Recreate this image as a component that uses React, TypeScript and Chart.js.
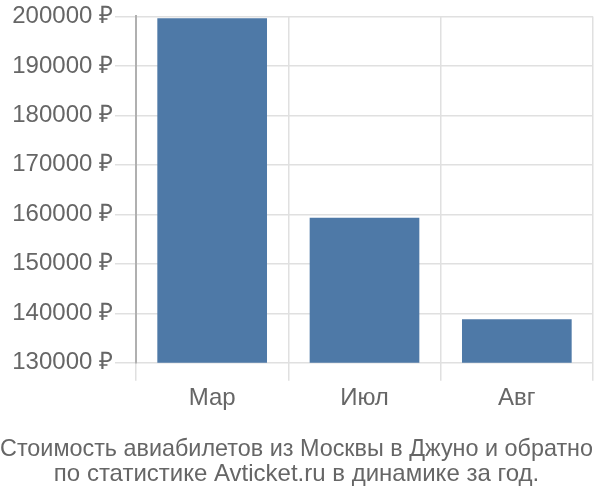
import React, { useEffect, useRef } from "react";
import { Chart, registerables } from "chart.js";

Chart.register(...registerables);

const categories = ["Мар", "Июл", "Авг"];
const prices = [199650, 159300, 138800];
const yMin = 130000;
const yMax = 200000;
const yStep = 10000;
const titleLines = [
  "Стоимость авиабилетов из Москвы в Джуно и обратно",
  "по статистике Avticket.ru в динамике за год.",
];

export default function App() {
  const ref = useRef<HTMLCanvasElement | null>(null);
  useEffect(() => {
    if (!ref.current) return;
    const family = "'Liberation Sans', Arial, sans-serif";
    const tickFont = { family, size: 24, lineHeight: 1.2 };
    const chart = new Chart(ref.current, {
      type: "bar",
      data: {
        labels: categories,
        datasets: [
          {
            data: prices,
            backgroundColor: "#4e79a7",
            borderWidth: 0,
            barPercentage: 0.72,
            categoryPercentage: 1,
          },
        ],
      },
      options: {
        animation: false,
        responsive: false,
        maintainAspectRatio: false,
        layout: { padding: { left: 0, right: 7, top: 0, bottom: 0 } },
        plugins: {
          legend: { display: false },
          tooltip: { enabled: false },
          title: {
            display: true,
            position: "bottom",
            text: titleLines,
            color: "#666",
            font: { family, size: 24, weight: "normal", lineHeight: 1.05 },
            padding: { top: 21, bottom: 13 },
          },
        },
        scales: {
          x: {
            grid: { color: "#e0e0e0", lineWidth: 1.5, tickLength: 18, offset: true },
            border: { display: false },
            ticks: { color: "#666", font: tickFont, padding: 3 },
          },
          y: {
            min: yMin,
            max: yMax,
            afterFit: (scale: any) => {
              scale.width = 136;
            },
            ticks: {
              stepSize: yStep,
              color: "#666",
              font: tickFont,
              padding: 2,
              callback: (v: any) => `${v} ₽`,
            },
            grid: { color: "#e0e0e0", lineWidth: 1.5, tickLength: 21 },
            border: { display: true, color: "#b0b0b0", width: 2 },
          },
        },
      },
    });
    return () => chart.destroy();
  }, []);
  return (
    <div style={{ position: "fixed", left: 0, top: 0, width: 600, height: 500, background: "#fff" }}>
      <canvas ref={ref} width={600} height={500} style={{ width: 600, height: 500 }} />
    </div>
  );
}
